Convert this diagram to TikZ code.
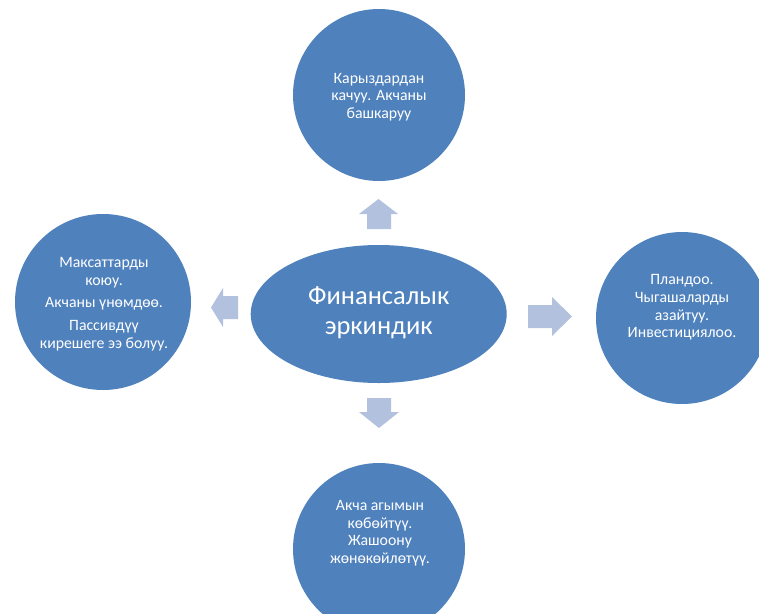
\documentclass[tikz,border=0pt]{standalone}
\usepackage{fontspec}
\setmainfont{Carlito}
\begin{document}
\begin{tikzpicture}[x=1pt,y=-1pt,
  blk/.style={fill=arrfill,draw=none},
  txt/.style={text=white,align=center,font=\fontsize{15.8}{17.6}\selectfont}]
\definecolor{bubfill}{HTML}{4F81BD}
\definecolor{arrfill}{HTML}{B2C1DD}
\useasboundingbox (0,0) rectangle (759,613);
\begin{scope}
\clip (0,0) rectangle (759,613);
% centre
\fill[bubfill] (378.7,314) ellipse [x radius=128, y radius=69];
\node[text=white,align=center,font=\fontsize{26.5}{30}\selectfont] (c) at (378.7,313) {Финансалык\\эркиндик};
% circles
\fill[bubfill] (379,95) circle [radius=86];
\node[txt] (t) at (379,97) {Карыздардан\\качуу. Акчаны\\башкаруу};
\fill[bubfill] (103,302) circle [radius=88];
\node[txt] (l) at (104,304) {Максаттарды\\коюу.\\[5pt]Акчаны үнөмдөө.\\[5pt]Пассивдүү\\кирешеге ээ болуу.};
\fill[bubfill] (682,318) circle [radius=86];
\node[txt] (r) at (682,307.5) {Пландоо.\\Чыгашаларды\\азайтуу.\\Инвестициялоо.};
\fill[bubfill] (379,549) circle [radius=86];
\node[txt] (b) at (380,533) {Акча агымын\\көбөйтүү.\\Жашоону\\жөнөкөйлөтүү.};
\end{scope}
% block arrows
\fill[blk] (367,229) -- (367,214) -- (359,214) -- (378.5,199) -- (398,214) -- (391,214) -- (391,229) -- cycle;
\fill[blk] (367,398) -- (367,412) -- (359,412) -- (379,428) -- (399,412) -- (391,412) -- (391,398) -- cycle;
\fill[blk] (238,296) -- (223,296) -- (223,288) -- (211,307.5) -- (223,327) -- (223,319) -- (238,319) -- cycle;
\fill[blk] (528,305) -- (552,305) -- (552,297) -- (572,316.5) -- (552,336) -- (552,328) -- (528,328) -- cycle;
\end{tikzpicture}
\end{document}
